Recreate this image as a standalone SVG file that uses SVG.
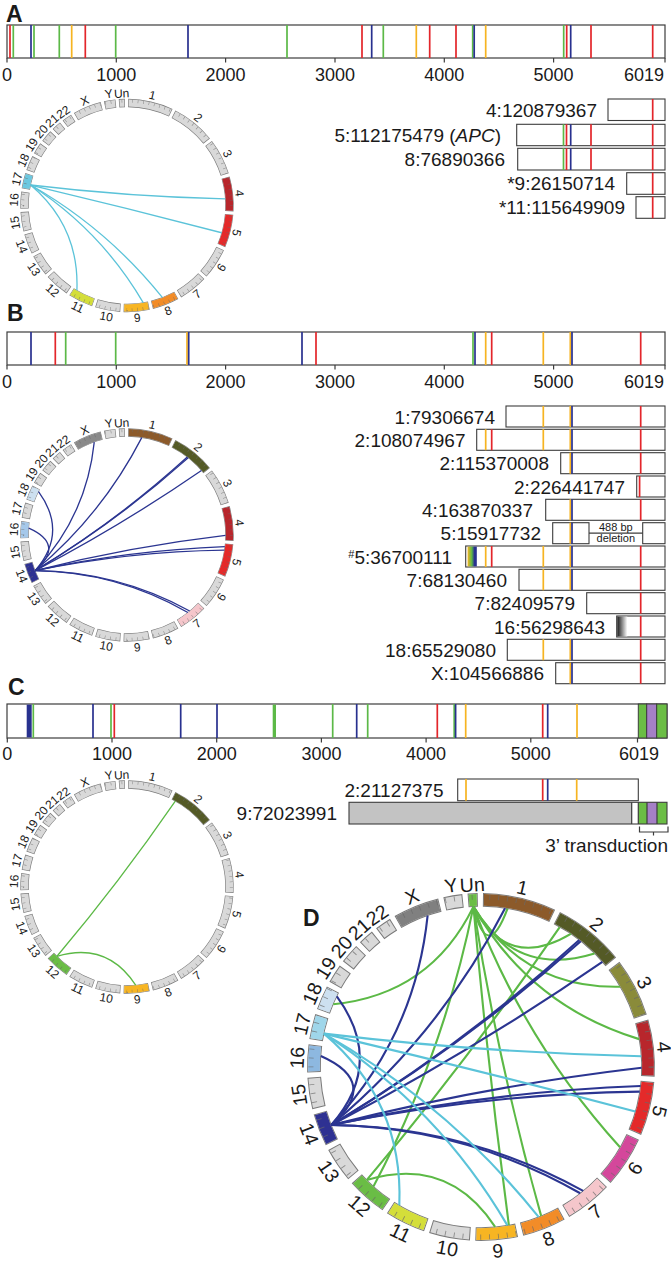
<svg xmlns="http://www.w3.org/2000/svg" xmlns:xlink="http://www.w3.org/1999/xlink" width="671" height="1280" viewBox="0 0 671 1280">
<style>
.t{font-family:"Liberation Sans",Arial,sans-serif;fill:#1a1a1a}
.ax{font-size:18px;text-anchor:middle}
.lb{font-size:19px;text-anchor:end}
.pl{font-size:23px;font-weight:bold}
.cl{font-size:12px;text-anchor:middle;dominant-baseline:central}
.sm{font-size:11px;text-anchor:middle}
.bar{fill:#fff;stroke:#3c3c3c;stroke-width:1.2}
.bx{fill:#fff;stroke:#3c3c3c;stroke-width:1.1}
.r{stroke:#e3262b;stroke-width:1.7;fill:none}
.b{stroke:#28318f;stroke-width:1.7;fill:none}
.g{stroke:#5cb947;stroke-width:1.7;fill:none}
.y{stroke:#f6b422;stroke-width:1.7;fill:none}
.tk{stroke:#3c3c3c;stroke-width:1.2;fill:none}
.lkA{fill:none;stroke:#5bc3d9;stroke-width:1.3}
.lkB{fill:none;stroke:#2b3591;stroke-width:1.3}
.lkC{fill:none;stroke:#5cb946;stroke-width:1.3}
.sf{fill:none;stroke-width:7.2}
.sb{fill:none;stroke:#7a7a7a;stroke-width:8.4}
</style>
<defs>
<linearGradient id="grad5" x1="0" x2="1" y1="0" y2="0"><stop offset="0" stop-color="#f6b422"/><stop offset="0.45" stop-color="#5cb947"/><stop offset="0.75" stop-color="#28318f"/><stop offset="1" stop-color="#28318f"/></linearGradient>
<linearGradient id="grad16" x1="0" x2="1" y1="0" y2="0"><stop offset="0" stop-color="#1a1a1a"/><stop offset="1" stop-color="#ffffff"/></linearGradient>
<g id="segB">
<circle class="sb" r="102.5" pathLength="360" stroke-dasharray="24.61 400" transform="rotate(-89.34)"/>
<circle class="sb" r="102.5" pathLength="360" stroke-dasharray="24.04 400" transform="rotate(-63.01)"/>
<circle class="sb" r="102.5" pathLength="360" stroke-dasharray="19.71 400" transform="rotate(-37.25)"/>
<circle class="sb" r="102.5" pathLength="360" stroke-dasharray="19.04 400" transform="rotate(-15.82)"/>
<circle class="sb" r="102.5" pathLength="360" stroke-dasharray="18.08 400" transform="rotate(4.94)"/>
<circle class="sb" r="102.5" pathLength="360" stroke-dasharray="17.12 400" transform="rotate(24.74)"/>
<circle class="sb" r="102.5" pathLength="360" stroke-dasharray="15.96 400" transform="rotate(43.58)"/>
<circle class="sb" r="102.5" pathLength="360" stroke-dasharray="14.71 400" transform="rotate(61.26)"/>
<circle class="sb" r="102.5" pathLength="360" stroke-dasharray="14.23 400" transform="rotate(77.69)"/>
<circle class="sb" r="102.5" pathLength="360" stroke-dasharray="13.75 400" transform="rotate(93.65)"/>
<circle class="sb" r="102.5" pathLength="360" stroke-dasharray="13.66 400" transform="rotate(109.12)"/>
<circle class="sb" r="102.5" pathLength="360" stroke-dasharray="13.56 400" transform="rotate(124.49)"/>
<circle class="sb" r="102.5" pathLength="360" stroke-dasharray="11.73 400" transform="rotate(139.77)"/>
<circle class="sb" r="102.5" pathLength="360" stroke-dasharray="10.96 400" transform="rotate(153.23)"/>
<circle class="sb" r="102.5" pathLength="360" stroke-dasharray="10.58 400" transform="rotate(165.91)"/>
<circle class="sb" r="102.5" pathLength="360" stroke-dasharray="9.33 400" transform="rotate(178.21)"/>
<circle class="sb" r="102.5" pathLength="360" stroke-dasharray="8.47 400" transform="rotate(189.26)"/>
<circle class="sb" r="102.5" pathLength="360" stroke-dasharray="8.18 400" transform="rotate(199.45)"/>
<circle class="sb" r="102.5" pathLength="360" stroke-dasharray="6.35 400" transform="rotate(209.35)"/>
<circle class="sb" r="102.5" pathLength="360" stroke-dasharray="6.74 400" transform="rotate(217.42)"/>
<circle class="sb" r="102.5" pathLength="360" stroke-dasharray="5.29 400" transform="rotate(225.87)"/>
<circle class="sb" r="102.5" pathLength="360" stroke-dasharray="5.58 400" transform="rotate(232.89)"/>
<circle class="sb" r="102.5" pathLength="360" stroke-dasharray="15.58 400" transform="rotate(240.19)"/>
<circle class="sb" r="102.5" pathLength="360" stroke-dasharray="6.35 400" transform="rotate(257.49)"/>
<circle class="sb" r="102.5" pathLength="360" stroke-dasharray="3.37 400" transform="rotate(265.56)"/>
</g>
<g id="segF">
<circle id="c1" class="sf" r="102.5" pathLength="360" stroke-dasharray="23.93 400" transform="rotate(-89)"/>
<circle id="c2" class="sf" r="102.5" pathLength="360" stroke-dasharray="23.36 400" transform="rotate(-62.67)"/>
<circle id="c3" class="sf" r="102.5" pathLength="360" stroke-dasharray="19.03 400" transform="rotate(-36.91)"/>
<circle id="c4" class="sf" r="102.5" pathLength="360" stroke-dasharray="18.36 400" transform="rotate(-15.48)"/>
<circle id="c5" class="sf" r="102.5" pathLength="360" stroke-dasharray="17.40 400" transform="rotate(5.28)"/>
<circle id="c6" class="sf" r="102.5" pathLength="360" stroke-dasharray="16.44 400" transform="rotate(25.08)"/>
<circle id="c7" class="sf" r="102.5" pathLength="360" stroke-dasharray="15.28 400" transform="rotate(43.92)"/>
<circle id="c8" class="sf" r="102.5" pathLength="360" stroke-dasharray="14.03 400" transform="rotate(61.60)"/>
<circle id="c9" class="sf" r="102.5" pathLength="360" stroke-dasharray="13.55 400" transform="rotate(78.03)"/>
<circle id="c10" class="sf" r="102.5" pathLength="360" stroke-dasharray="13.07 400" transform="rotate(93.99)"/>
<circle id="c11" class="sf" r="102.5" pathLength="360" stroke-dasharray="12.98 400" transform="rotate(109.46)"/>
<circle id="c12" class="sf" r="102.5" pathLength="360" stroke-dasharray="12.88 400" transform="rotate(124.83)"/>
<circle id="c13" class="sf" r="102.5" pathLength="360" stroke-dasharray="11.05 400" transform="rotate(140.11)"/>
<circle id="c14" class="sf" r="102.5" pathLength="360" stroke-dasharray="10.28 400" transform="rotate(153.57)"/>
<circle id="c15" class="sf" r="102.5" pathLength="360" stroke-dasharray="9.90 400" transform="rotate(166.25)"/>
<circle id="c16" class="sf" r="102.5" pathLength="360" stroke-dasharray="8.65 400" transform="rotate(178.55)"/>
<circle id="c17" class="sf" r="102.5" pathLength="360" stroke-dasharray="7.79 400" transform="rotate(189.60)"/>
<circle id="c18" class="sf" r="102.5" pathLength="360" stroke-dasharray="7.50 400" transform="rotate(199.79)"/>
<circle id="c19" class="sf" r="102.5" pathLength="360" stroke-dasharray="5.67 400" transform="rotate(209.69)"/>
<circle id="c20" class="sf" r="102.5" pathLength="360" stroke-dasharray="6.06 400" transform="rotate(217.76)"/>
<circle id="c21" class="sf" r="102.5" pathLength="360" stroke-dasharray="4.61 400" transform="rotate(226.21)"/>
<circle id="c22" class="sf" r="102.5" pathLength="360" stroke-dasharray="4.90 400" transform="rotate(233.23)"/>
<circle id="cX" class="sf" r="102.5" pathLength="360" stroke-dasharray="14.90 400" transform="rotate(240.53)"/>
<circle id="cY" class="sf" r="102.5" pathLength="360" stroke-dasharray="5.67 400" transform="rotate(257.83)"/>
<circle id="cUn" class="sf" r="102.5" pathLength="360" stroke-dasharray="2.69 400" transform="rotate(265.90)"/>
</g>
<mask id="segMask" maskUnits="userSpaceOnUse" x="-130" y="-130" width="260" height="260"><use href="#segF" stroke="#fff"/></mask>
<g id="ringBase"><use href="#segB"/><use href="#segF" stroke="#d9d9d9"/></g>
<g id="ringTop">
<circle r="104.4" pathLength="360" stroke-dasharray="0.3 2.7" fill="none" stroke="#6a6a6a" stroke-opacity="0.7" stroke-width="3.2" mask="url(#segMask)"/>
<g class="t cl">
<text transform="rotate(12.97) translate(0,-113)">1</text>
<text transform="rotate(39.01) translate(0,-113)">2</text>
<text transform="rotate(62.61) translate(0,-113)">3</text>
<text transform="rotate(83.70) translate(0,-113)">4</text>
<text transform="rotate(103.98) translate(0,-113)">5</text>
<text transform="rotate(123.30) translate(0,-113) rotate(180)">6</text>
<text transform="rotate(141.56) translate(0,-113) rotate(180)">7</text>
<text transform="rotate(158.62) translate(0,-113) rotate(180)">8</text>
<text transform="rotate(174.81) translate(0,-113) rotate(180)">9</text>
<text transform="rotate(190.53) translate(0,-113) rotate(180)">10</text>
<text transform="rotate(205.95) translate(0,-113) rotate(180)">11</text>
<text transform="rotate(221.27) translate(0,-113) rotate(180)">12</text>
<text transform="rotate(235.64) translate(0,-113) rotate(180)">13</text>
<text transform="rotate(248.71) translate(0,-113) rotate(180)">14</text>
<text transform="rotate(261.20) translate(0,-113)">15</text>
<text transform="rotate(272.88) translate(0,-113)">16</text>
<text transform="rotate(283.50) translate(0,-113)">17</text>
<text transform="rotate(293.54) translate(0,-113)">18</text>
<text transform="rotate(302.53) translate(0,-113)">19</text>
<text transform="rotate(310.79) translate(0,-113)">20</text>
<text transform="rotate(318.52) translate(0,-113)">21</text>
<text transform="rotate(325.68) translate(0,-113)">22</text>
<text transform="rotate(337.98) translate(0,-113)">X</text>
<text transform="rotate(350.67) translate(0,-113)">Y</text>
<text transform="rotate(357.25) translate(0,-112)">Un</text>
</g>
</g>
<g id="linksA" class="lkA">
<path d="M-96.35,-20.48Q0.63,-8.81 98.28,-6.63"/>
<path d="M-96.35,-20.48Q-0.55,2.20 94.65,27.25"/>
<path d="M-96.35,-20.48Q-19.84,23.23 35.31,91.95"/>
<path d="M-96.35,-20.48Q-26.05,24.92 16.19,97.16"/>
<path d="M-96.35,-20.48Q-47.60,20.90 -50.10,84.80"/>
</g>
<g id="linksB" class="lkB">
<path d="M-91.84,35.62Q-25.05,-20.08 14.76,-97.39"/>
<path d="M-91.84,35.62Q-10.26,-13.74 60.26,-77.91"/>
<path d="M-91.84,35.62Q-9.95,-13.50 61.21,-77.17"/>
<path d="M-91.84,35.62Q-5.65,-9.38 74.45,-64.49"/>
<path d="M-91.84,35.62Q2.16,11.73 98.50,0.46"/>
<path d="M-91.84,35.62Q1.94,15.37 97.80,11.68"/>
<path d="M-91.84,35.62Q1.79,16.48 97.34,15.09"/>
<path d="M-91.84,35.62Q-9.47,36.27 62.69,75.97"/>
<path d="M-91.84,35.62Q-10.07,36.75 60.86,77.45"/>
<path d="M-91.84,35.62Q-61.78,9.37 -98.26,-6.80"/>
<path d="M-91.84,35.62Q-58.60,-2.50 -88.46,-43.32"/>
<path d="M-91.84,35.62Q-40.49,-18.62 -32.75,-92.90"/>
</g>
<g id="linksC" class="lkC">
<path d="M-70.01,69.28Q-7.06,-5.39 48.30,-85.85"/>
<path d="M-70.01,69.28Q-19.94,54.41 8.67,98.12"/>
</g>
</defs>
<rect width="671" height="1280" fill="#fff"/>

<!-- PANEL A -->
<g id="panelA-bar">
<text class="t pl" x="6" y="22">A</text>
<rect class="bar" x="7" y="25" width="658" height="33"/>
<path class="g" d="M13.3,25v33M34,25v33M59.3,25v33M115.7,25v33M287,25v33M383.3,25v33M472.7,25v33M563.7,25v33"/>
<path class="y" d="M71.7,25v33M416.3,25v33M485.7,25v33"/>
<path class="r" d="M10,25v33M85.3,25v33M362,25v33M429.7,25v33M456,25v33M566.7,25v33M591,25v33M652.7,25v33"/>
<path class="b" d="M31,25v33M188,25v33M371.7,25v33M474.2,25v33M570.7,25v33"/>
<path class="tk" d="M7,58v4.5M116.3,58v4.5M225.6,58v4.5M335,58v4.5M444.3,58v4.5M553.6,58v4.5M665,58v4.5"/>
<g class="t ax"><text x="7" y="81">0</text><text x="116.3" y="81">1000</text><text x="225.6" y="81">2000</text><text x="335" y="81">3000</text><text x="444.3" y="81">4000</text><text x="553.6" y="81">5000</text><text x="664" y="81" style="text-anchor:end">6019</text></g>
</g>
<g id="panelA-circos" transform="translate(127,205.5)">
<use href="#ringBase"/>
<use href="#c4" stroke="#b8262c"/><use href="#c5" stroke="#e42a2a"/><use href="#c8" stroke="#f28c28"/><use href="#c9" stroke="#f7b523"/><use href="#c11" stroke="#d4de3a"/><use href="#c17" stroke="#6cc8e0"/>
<use href="#ringTop"/>
<g id="connectors-A"><use href="#linksA"/></g>
</g>
<g id="panelA-rows">
<g id="A-4"><text class="t lb" x="597" y="117">4:120879367</text><rect class="bx" x="608" y="99" width="57" height="21.5"/><path class="r" d="M652.7,99v21.5"/></g>
<g id="A-5"><text class="t lb" x="501" y="141.7">5:112175479 (<tspan font-style="italic">APC</tspan>)</text><rect class="bx" x="516.7" y="124.3" width="148.3" height="21.4"/><path class="g" d="M563.5,124.3v21.4"/><path class="r" d="M566.5,124.3v21.4M591,124.3v21.4M652.7,124.3v21.4"/><path class="b" d="M570.7,124.3v21.4"/></g>
<g id="A-8"><text class="t lb" x="505" y="166">8:76890366</text><rect class="bx" x="517.7" y="148.3" width="147.3" height="21.7"/><path class="g" d="M563.5,148.3v21.7"/><path class="r" d="M566.5,148.3v21.7M591,148.3v21.7M652.7,148.3v21.7"/><path class="b" d="M570.7,148.3v21.7"/></g>
<g id="A-9"><text class="t lb" x="615" y="190.3">*9:26150714</text><rect class="bx" x="626.7" y="172.7" width="38.3" height="21.6"/><path class="r" d="M652.7,172.7v21.6"/></g>
<g id="A-11"><text class="t lb" x="625" y="214.3">*11:115649909</text><rect class="bx" x="636" y="196.7" width="29" height="21.6"/><path class="r" d="M652.7,196.7v21.6"/></g>
</g>

<!-- PANEL B -->
<g id="panelB-bar">
<text class="t pl" x="7" y="321">B</text>
<rect class="bar" x="7" y="332" width="658" height="33"/>
<path class="g" d="M65.7,332v33M115.7,332v33M473,332v33"/>
<path class="y" d="M187,332v33M485.7,332v33M543.3,332v33M570.3,332v33"/>
<path class="r" d="M55.3,332v33M316,332v33M491.7,332v33M640.7,332v33"/>
<path class="b" d="M31,332v33M188.7,332v33M302,332v33M475,332v33M572,332v33"/>
<path class="tk" d="M7,365v4.5M116.3,365v4.5M225.6,365v4.5M335,365v4.5M444.3,365v4.5M553.6,365v4.5M665,365v4.5"/>
<g class="t ax"><text x="7" y="388">0</text><text x="116.3" y="388">1000</text><text x="225.6" y="388">2000</text><text x="335" y="388">3000</text><text x="444.3" y="388">4000</text><text x="553.6" y="388">5000</text><text x="664" y="388" style="text-anchor:end">6019</text></g>
</g>
<g id="panelB-circos" transform="translate(127,535)">
<use href="#ringBase"/>
<use href="#c1" stroke="#8c5a2a"/><use href="#c2" stroke="#545a26"/><use href="#c4" stroke="#b8262c"/><use href="#c5" stroke="#e42a2a"/><use href="#c7" stroke="#f5c6cb"/><use href="#c14" stroke="#2e3192"/><use href="#c16" stroke="#a5c8ea"/><use href="#c18" stroke="#cde0f0"/><use href="#cX" stroke="#8a8a8a"/>
<use href="#ringTop"/>
<g id="connectors-B"><use href="#linksB"/></g>
</g>
<g id="panelB-rows">
<g id="B-1"><text class="t lb" x="495" y="423.5">1:79306674</text><rect class="bx" x="506" y="406" width="159" height="21"/><path class="y" d="M543.3,406v21M570.3,406v21"/><path class="b" d="M572,406v21"/><path class="r" d="M640.7,406v21"/></g>
<g id="B-2a"><text class="t lb" x="465.5" y="446.8">2:108074967</text><rect class="bx" x="476.7" y="429.3" width="188.3" height="21"/><path class="y" d="M485.7,429.3v21M543.3,429.3v21M570.3,429.3v21"/><path class="r" d="M491.7,429.3v21M640.7,429.3v21"/><path class="b" d="M572,429.3v21"/></g>
<g id="B-2b"><text class="t lb" x="549" y="470.2">2:115370008</text><rect class="bx" x="560.7" y="452.7" width="104.3" height="21"/><path class="y" d="M570.3,452.7v21"/><path class="b" d="M572,452.7v21"/><path class="r" d="M640.7,452.7v21"/></g>
<g id="B-2c"><text class="t lb" x="625" y="493.5">2:226441747</text><rect class="bx" x="636.7" y="476" width="28.3" height="21"/><path class="r" d="M639.6,476v21"/></g>
<g id="B-4"><text class="t lb" x="533" y="516.8">4:163870337</text><rect class="bx" x="545.7" y="499.3" width="119.3" height="21"/><path class="y" d="M570.3,499.3v21"/><path class="b" d="M572,499.3v21"/><path class="r" d="M640.7,499.3v21"/></g>
<g id="B-5a"><text class="t lb" x="541" y="540.2">5:15917732</text><rect class="bx" x="552.7" y="522.7" width="36.3" height="21"/><rect class="bx" x="642.7" y="522.7" width="22.3" height="21"/><path class="tk" d="M589,533.2H642.7"/><path class="y" d="M570.3,522.7v21"/><path class="b" d="M572,522.7v21"/><text class="t sm" x="615.8" y="530.6">488 bp</text><text class="t sm" x="615.8" y="542.3">deletion</text></g>
<g id="B-5b"><text class="t lb" x="452" y="563.5"><tspan font-size="11" dy="-6">#</tspan><tspan dy="6">5:36700111</tspan></text><rect class="bx" x="465.7" y="546" width="199.3" height="21"/><rect x="467.6" y="546.6" width="9.2" height="19.8" fill="url(#grad5)"/><path class="y" d="M485.7,546v21M543.3,546v21M570.3,546v21"/><path class="r" d="M491.7,546v21M640.7,546v21"/><path class="b" d="M572,546v21"/></g>
<g id="B-7a"><text class="t lb" x="507" y="586.8">7:68130460</text><rect class="bx" x="519" y="569.3" width="146" height="21"/><path class="y" d="M543.3,569.3v21M570.3,569.3v21"/><path class="b" d="M572,569.3v21"/><path class="r" d="M640.7,569.3v21"/></g>
<g id="B-7b"><text class="t lb" x="575" y="610.2">7:82409579</text><rect class="bx" x="586.7" y="592.7" width="78.3" height="21"/><path class="r" d="M640.7,592.7v21"/></g>
<g id="B-16"><text class="t lb" x="605" y="633.5">16:56298643</text><rect class="bx" x="616.7" y="616" width="48.3" height="21"/><rect x="617.3" y="616.6" width="10" height="19.8" fill="url(#grad16)"/><path class="r" d="M640.7,616v21"/></g>
<g id="B-18"><text class="t lb" x="496" y="656.8">18:65529080</text><rect class="bx" x="507.3" y="639.3" width="157.7" height="21"/><path class="y" d="M543.3,639.3v21M570.3,639.3v21"/><path class="b" d="M572,639.3v21"/><path class="r" d="M640.7,639.3v21"/></g>
<g id="B-X"><text class="t lb" x="544" y="680.2">X:104566886</text><rect class="bx" x="555.7" y="662.7" width="109.3" height="21"/><path class="y" d="M570.3,662.7v21"/><path class="b" d="M572,662.7v21"/><path class="r" d="M640.7,662.7v21"/></g>
</g>

<!-- PANEL C -->
<g id="panelC-bar">
<text class="t pl" x="8" y="695">C</text>
<rect class="bar" x="7" y="704" width="660" height="34"/>
<rect x="26.7" y="704.6" width="5" height="32.8" fill="#28318f"/>
<rect x="272.7" y="704.6" width="3.3" height="32.8" fill="#5cb947"/>
<path class="g" d="M33.3,704v34M111,704v34M332.7,704v34M367.7,704v34M454.2,704v34"/>
<path class="y" d="M465.7,704v34M577,704v34"/>
<path class="r" d="M114.3,704v34M437.3,704v34M542.7,704v34"/>
<path class="b" d="M93,704v34M180.7,704v34M217,704v34M356.7,704v34M455.6,704v34M547.7,704v34"/>
<rect x="638.3" y="704" width="8.4" height="34" fill="#6bbd45" stroke="#3c3c3c" stroke-width="1"/>
<rect x="646.7" y="704" width="10" height="34" fill="#a580c6" stroke="#3c3c3c" stroke-width="1"/>
<rect x="656.7" y="704" width="10.3" height="34" fill="#6bbd45" stroke="#3c3c3c" stroke-width="1"/>
<path class="tk" d="M7.3,738v4.5M112,738v4.5M216.7,738v4.5M321.4,738v4.5M426.1,738v4.5M530.8,738v4.5M637.5,738v4.5"/>
<g class="t ax"><text x="7.3" y="760">0</text><text x="112" y="760">1000</text><text x="216.7" y="760">2000</text><text x="321.4" y="760">3000</text><text x="426.1" y="760">4000</text><text x="530.8" y="760">5000</text><text x="639" y="760">6019</text></g>
</g>
<g id="panelC-circos" transform="translate(127,887)">
<use href="#ringBase"/>
<use href="#c2" stroke="#545a26"/><use href="#c9" stroke="#f7b523"/><use href="#c12" stroke="#6abd45"/>
<use href="#ringTop"/>
<g id="connectors-C"><use href="#linksC"/></g>
</g>
<g id="panelC-rows">
<g id="C-2"><text class="t lb" x="443.5" y="796.5">2:21127375</text><rect class="bx" x="457.7" y="779" width="180.6" height="21.7"/><path class="y" d="M466,779v21.7M576.7,779v21.7"/><path class="r" d="M542.7,779v21.7"/><path class="b" d="M547.7,779v21.7"/></g>
<g id="C-9"><text class="t lb" x="337" y="819.5">9:72023991</text><rect x="349" y="802.3" width="282.7" height="21.7" fill="#c3c3c3"/><rect x="638.3" y="802.3" width="8.7" height="21.7" fill="#6bbd45"/><rect x="647" y="802.3" width="10" height="21.7" fill="#a580c6"/><rect x="657" y="802.3" width="10" height="21.7" fill="#6bbd45"/><path class="tk" d="M638.3,802.3v21.7M647,802.3v21.7M657,802.3v21.7M631.7,802.3v21.7"/><rect x="349" y="802.3" width="318" height="21.7" fill="none" stroke="#3c3c3c" stroke-width="1.1"/>
<path class="tk" d="M639.5,826.5V832H668V826.5M653.5,832v3.5"/>
<text class="t lb" x="668" y="851.5">3’ transduction</text></g>
</g>

<!-- PANEL D -->
<text class="t pl" x="303" y="926">D</text>
<g id="panelD-circos" transform="translate(481,1067) scale(1.63)">
<use href="#ringBase"/>
<use href="#c1" stroke="#8c5a2a"/><use href="#c2" stroke="#545a26"/><use href="#c3" stroke="#8a8b3a"/><use href="#c4" stroke="#b8262c"/><use href="#c5" stroke="#e42a2a"/><use href="#c6" stroke="#d4479b"/><use href="#c7" stroke="#f5c6cb"/><use href="#c8" stroke="#f28c28"/><use href="#c9" stroke="#f7b523"/><use href="#c11" stroke="#d4de3a"/><use href="#c12" stroke="#6abd45"/><use href="#c14" stroke="#2e3192"/><use href="#c16" stroke="#8db8e0"/><use href="#c17" stroke="#9fd6ea"/><use href="#c18" stroke="#cde0f0"/><use href="#cX" stroke="#808080"/><use href="#cUn" stroke="#6abd45"/>
<use href="#ringTop"/>
<g id="connectors-D">
<g class="lkC">
<path d="M-4.64,-98.39Q3.78,-63.55 16.26,-97.15"/>
<path d="M-4.64,-98.39Q16.39,-58.52 55.08,-81.66"/>
<path d="M-4.64,-98.39Q21.13,-54.61 69.65,-69.65"/>
<path d="M-4.64,-98.39Q26.21,-47.98 85.30,-49.25"/>
<path d="M-4.64,-98.39Q30.02,-37.53 97.00,-17.10"/>
<path d="M-4.64,-98.39Q26.21,-15.97 85.30,49.25"/>
<path d="M-4.64,-98.39Q10.48,-2.29 36.90,91.33"/>
<path d="M-4.64,-98.39Q4.05,-0.45 17.10,97.00"/>
<path d="M-4.64,-98.39Q-22.93,-8.19 -65.91,73.20"/>
<path d="M-4.64,-98.39Q-30.98,-44.49 -90.67,-38.49"/>
</g>
<use href="#linksC"/>
<use href="#linksB"/>
<use href="#linksA"/>
</g>
</g>
</svg>
